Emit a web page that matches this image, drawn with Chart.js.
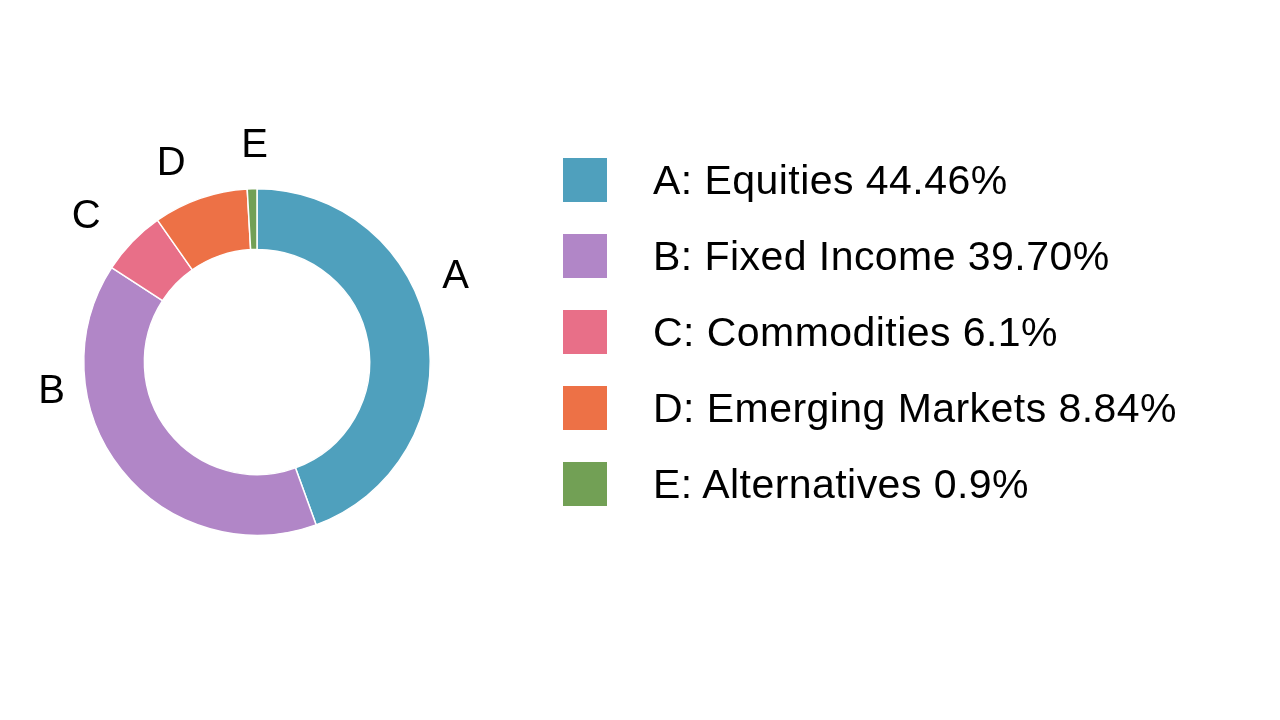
<!DOCTYPE html>
<html>
<head>
<meta charset="utf-8">
<script src="https://cdn.jsdelivr.net/npm/chart.js@4.4.1/dist/chart.umd.min.js"></script>
<style>
  html, body { margin: 0; padding: 0; background: #fff; }
  #wrap { position: relative; width: 1280px; height: 720px; }
  #legend { position: absolute; left: 563px; top: 158px; font-family: "Liberation Sans", Arial, sans-serif; }
  #legend .item { display: flex; align-items: center; height: 44px; margin-bottom: 32px; }
  #legend .box { width: 44px; height: 44px; margin-right: 46px; }
  #legend .txt { font-size: 41px; color: #000; letter-spacing: 0.45px; white-space: nowrap; }
</style>
</head>
<body>
<div id="wrap">
  <canvas id="myChart" width="1280" height="720"></canvas>
  <div id="legend"></div>
</div>
<script>
var letters = ['A', 'B', 'C', 'D', 'E'];
var categories = ['Equities', 'Fixed Income', 'Commodities', 'Emerging Markets', 'Alternatives'];
var shareText = ['44.46%', '39.70%', '6.1%', '8.84%', '0.9%'];
var shares = [44.46, 39.70, 6.1, 8.84, 0.9];
var colors = ['#4fa0bd', '#b186c7', '#e86f88', '#ed7146', '#72a055'];

// letters outside the ring, from each arc's mid angle (nudges in degrees)
const sliceLetters = {
    id: 'sliceLetters',
    afterDraw(chart, args, opts) {
        const ctx = chart.ctx;
        const arcs = chart.getDatasetMeta(0).data;
        ctx.save();
        ctx.font = '40px "Liberation Sans", Arial, sans-serif';
        ctx.fillStyle = '#000';
        ctx.textAlign = 'center';
        ctx.textBaseline = 'middle';
        arcs.forEach(function (arc, i) {
            const p = arc.getProps(['x', 'y', 'startAngle', 'endAngle', 'outerRadius'], true);
            const a = (p.startAngle + p.endAngle) / 2 + opts.nudge[i] * Math.PI / 180;
            const r = p.outerRadius + opts.offset[i];
            ctx.fillText(letters[i], p.x + Math.cos(a) * r, p.y + Math.sin(a) * r + opts.dy);
        });
        ctx.restore();
    }
};

var ctx = document.getElementById('myChart').getContext('2d');
const myChart = new Chart(ctx, {
    type: 'doughnut',
    data: {
        labels: letters.map(function (l, i) { return l + ': ' + categories[i] + ' ' + shareText[i]; }),
        datasets: [{
            data: shares,
            backgroundColor: colors,
            borderColor: '#ffffff',
            borderWidth: 1.5
        }]
    },
    options: {
        responsive: false,
        animation: false,
        cutout: '65%',
        layout: { padding: { left: 83, right: 849, top: 188, bottom: 184 } },
        plugins: {
            legend: { display: false },
            tooltip: { enabled: false },
            sliceLetters: { nudge: [-14, 31, -3, -4, 1], offset: [44, 34, 53, 45, 46], dy: 3 }
        }
    },
    plugins: [sliceLetters]
});

var legend = document.getElementById('legend');
myChart.data.labels.forEach(function (text, i) {
    var item = document.createElement('div');
    item.className = 'item';
    var box = document.createElement('div');
    box.className = 'box';
    box.style.background = colors[i];
    var t = document.createElement('span');
    t.className = 'txt';
    t.textContent = text;
    item.appendChild(box);
    item.appendChild(t);
    legend.appendChild(item);
});
</script>
</body>
</html>
